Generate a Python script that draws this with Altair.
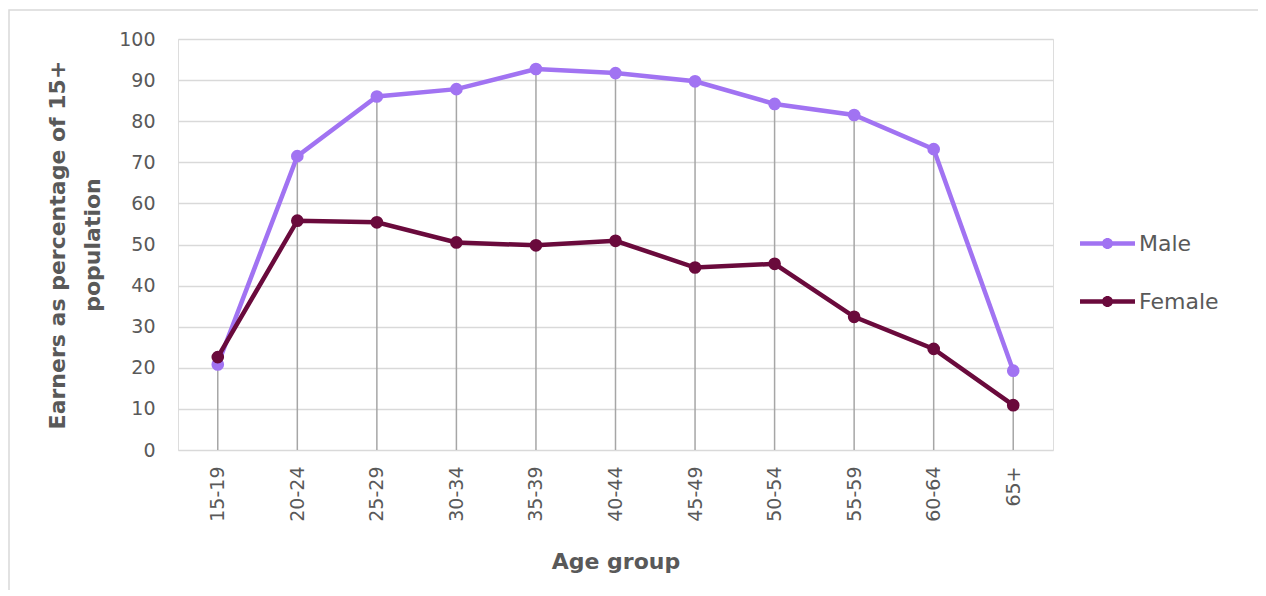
import altair as alt
import pandas as pd

age_groups = ["15-19", "20-24", "25-29", "30-34", "35-39", "40-44",
              "45-49", "50-54", "55-59", "60-64", "65+"]
male = [20.8, 71.5, 86.0, 87.8, 92.7, 91.7, 89.7, 84.2, 81.5, 73.2, 19.3]
female = [22.6, 55.8, 55.4, 50.5, 49.8, 50.9, 44.4, 45.3, 32.4, 24.6, 10.9]
series = ["Male", "Female"]
colors = ["#A173F2", "#6A0A3C"]

rows = []
for i, a in enumerate(age_groups):
    rows.append({"age": a, "sex": "Male", "value": male[i]})
    rows.append({"age": a, "sex": "Female", "value": female[i]})
df = pd.DataFrame(rows)
drop_df = pd.DataFrame({"age": age_groups,
                        "top": [max(m, f) for m, f in zip(male, female)],
                        "zero": [0] * len(age_groups)})

FONT = "DejaVu Sans"
GREY = "#595959"

x_enc = alt.X("age:N", sort=age_groups, scale=alt.Scale(type="point", padding=0.5),
              axis=alt.Axis(title="Age group", labelAngle=-90, labelFontSize=19,
                            labelColor=GREY, labelFont=FONT, labelPadding=16,
                            titleFont=FONT, titleFontSize=22, titleFontWeight="bold",
                            titleColor=GREY, titlePadding=30, ticks=False,
                            domain=False, grid=False, labelBaseline="middle",
                            labelAlign="right"))

y_scale = alt.Scale(domain=[0, 100])

frame = alt.Chart(pd.DataFrame({"a": [0]})).mark_rect(
    fill="transparent", stroke="#d9d9d9", strokeWidth=1.5, clip=False
).encode(x=alt.value(-169), x2=alt.value(1085), y=alt.value(-29), y2=alt.value(600))

drops = alt.Chart(drop_df).mark_rule(color="#a6a6a6", strokeWidth=1.5).encode(
    x=x_enc,
    y=alt.Y("top:Q", scale=y_scale,
            axis=alt.Axis(title=["Earners as percentage of 15+", "population"],
                          values=list(range(0, 101, 10)), labelFontSize=19,
                          labelColor=GREY, labelFont=FONT, labelPadding=23,
                          ticks=False, domain=False, grid=True,
                          gridColor="#d9d9d9", gridWidth=1.5,
                          titleFont=FONT, titleFontSize=22, titleFontWeight="bold",
                          titleColor=GREY, titlePadding=14, titleLineHeight=35)),
    y2="zero:Q",
)

legend_path = ("M-1,-0.085 L1,-0.085 L1,0.085 L-1,0.085 Z "
               "M0.2,0 A0.2,0.2 0 1,1 -0.2,0 A0.2,0.2 0 1,1 0.2,0 Z")

color_enc = alt.Color("sex:N", sort=series,
                      scale=alt.Scale(domain=series, range=colors),
                      legend=alt.Legend(title=None, orient="none", legendX=902,
                                        legendY=177, symbolType=legend_path,
                                        symbolSize=3025, symbolStrokeWidth=0,
                                        labelFont=FONT, labelFontSize=22,
                                        labelColor=GREY, labelOffset=4,
                                        rowPadding=19))

lines = alt.Chart(df).mark_line(strokeWidth=4.5).encode(
    x=x_enc, y=alt.Y("value:Q", scale=y_scale), color=color_enc)
points = alt.Chart(df).mark_circle(size=160, opacity=1).encode(
    x=x_enc, y=alt.Y("value:Q", scale=y_scale), color=color_enc)

chart = alt.layer(frame, drops, lines, points).properties(
    width=875, height=411,
    autosize=alt.AutoSizeParams(type="none"),
    padding={"left": 170, "top": 31, "right": 205, "bottom": 140},
).configure_view(stroke=None).configure(background="white")

chart.save("out.html", embed_options={"renderer": "svg", "actions": False})
